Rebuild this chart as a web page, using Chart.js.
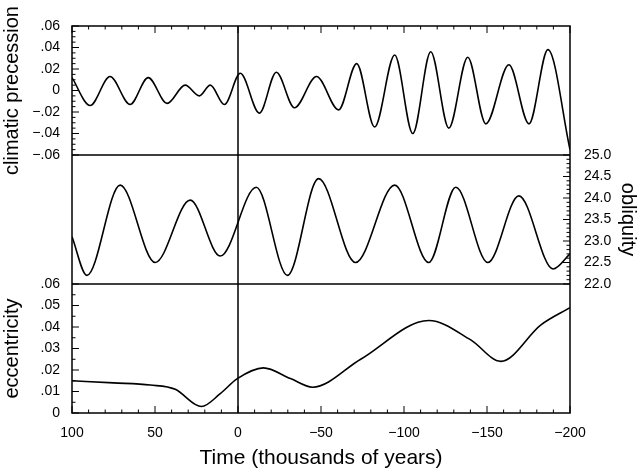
<!DOCTYPE html>
<html>
<head>
<meta charset="utf-8">
<script src="https://cdn.jsdelivr.net/npm/chart.js@4"></script>
<style>
  body { margin: 0; background: #fff; }
  #wrap { width: 640px; height: 475px; }
</style>
</head>
<body>
<div id="wrap"><canvas id="c"></canvas></div>
<script>
// values (time in thousands of years, + = past)
var precT = [100, 89.1, 77.1, 65, 54.1, 42.7, 31.8, 23.3, 16.7, 8.2, -1.4, -12.9, -23.1, -34, -47.3, -60.6, -71.5, -82.3, -94.4, -105.3, -116.1, -127, -138.4, -149.3, -163.2, -175.3, -186.7, -200];
var precV = [0.012, -0.014, 0.013, -0.013, 0.012, -0.012, 0.005, -0.005, 0.005, -0.013, 0.016, -0.021, 0.017, -0.016, 0.013, -0.018, 0.025, -0.034, 0.033, -0.040, 0.036, -0.035, 0.031, -0.031, 0.024, -0.031, 0.038, -0.055];

var oblT = [100, 91, 71, 49.9, 28.8, 10.7, -11, -29.8, -48.5, -70.8, -94.4, -114.9, -131.2, -150.5, -169.2, -189.8, -200];
var oblV = [23.1, 22.2, 24.3, 22.5, 23.95, 22.65, 24.25, 22.2, 24.45, 22.5, 24.3, 22.5, 24.25, 22.5, 24.05, 22.35, 22.7];

var eccT = [100, 75, 52.9, 37.8, 25.8, 22, 10.7, 0.4, -15.3, -31.6, -44.9, -73.9, -114.9, -140.2, -158.3, -182.5, -200];
var eccV = [0.015, 0.014, 0.013, 0.011, 0.004, 0.003, 0.009, 0.016, 0.021, 0.016, 0.012, 0.025, 0.043, 0.034, 0.024, 0.041, 0.049];

var xTicks = [100, 50, 0, -50, -100, -150, -200];
var precTicks = [-0.06, -0.04, -0.02, 0, 0.02, 0.04, 0.06];
var eccTicks = [0, 0.01, 0.02, 0.03, 0.04, 0.05, 0.06];
var oblTicks = [22, 22.5, 23, 23.5, 24, 24.5, 25];

function pts(t, v) { return t.map(function (x, i) { return { x: x, y: v[i] }; }); }
function minus(s) { return String(s).replace('-', '\u2212'); }
function dec(v) {
  if (Math.abs(v) < 1e-9) return '0';
  var s = v.toFixed(2).replace('0.', '.');
  return minus(s);
}
function fixed(list) {
  return function (sc) { sc.ticks = list.map(function (v) { return { value: v }; }); };
}

var FONT = 'Liberation Sans, Arial, sans-serif';

var frame = {
  id: 'frame',
  afterDraw: function (chart) {
    var ctx = chart.ctx, a = chart.chartArea, s = chart.scales;
    ctx.save();
    ctx.strokeStyle = '#000';
    ctx.lineWidth = 1.5;
    ctx.strokeRect(a.left, a.top, a.right - a.left, a.bottom - a.top);
    var y1 = s.yP.bottom, y2 = s.yE.top;
    ctx.beginPath();
    ctx.moveTo(a.left, y1); ctx.lineTo(a.right, y1);
    ctx.moveTo(a.left, y2); ctx.lineTo(a.right, y2);
    var x0 = s.x.getPixelForValue(0);
    ctx.moveTo(x0, a.top); ctx.lineTo(x0, a.bottom);
    ctx.stroke();
    ctx.lineWidth = 1;
    function yt(sc, lo, hi, maj, mn, xEdge, dir) {
      var n = Math.round((hi - lo) / mn);
      ctx.beginPath();
      for (var i = 0; i <= n; i++) {
        var v = lo + i * mn;
        var isMaj = Math.abs(Math.round(v / maj) * maj - v) < mn / 10;
        var py = sc.getPixelForValue(v);
        ctx.moveTo(xEdge, py); ctx.lineTo(xEdge + dir * (isMaj ? 7 : 3.5), py);
      }
      ctx.stroke();
    }
    yt(s.yP, -0.06, 0.06, 0.02, 0.005, a.left, 1);
    yt(s.yE, 0, 0.06, 0.01, 0.005, a.left, 1);
    yt(s.yO, 22, 25, 0.5, 0.1, a.right, -1);
    ctx.beginPath();
    for (var t = -200; t <= 100; t += 10) {
      var px = s.x.getPixelForValue(t);
      var L = (t % 50 === 0) ? 7 : 3.5;
      ctx.moveTo(px, a.bottom); ctx.lineTo(px, a.bottom - L);
      ctx.moveTo(px, a.top); ctx.lineTo(px, a.top + L);
    }
    ctx.stroke();
    ctx.restore();
  }
};

function line(d, axis) {
  return {
    data: d, yAxisID: axis, borderColor: '#000', borderWidth: 1.6,
    pointRadius: 0, fill: false, cubicInterpolationMode: 'monotone'
  };
}
var noGrid = { display: false };
var tickFont = { family: FONT, size: 14 };
var titleFont = { family: FONT, size: 20 };

new Chart(document.getElementById('c'), {
  type: 'line',
  data: {
    datasets: [
      line(pts(precT, precV), 'yP'),
      line(pts(oblT, oblV), 'yO'),
      line(pts(eccT, eccV), 'yE')
    ]
  },
  options: {
    responsive: true,
    maintainAspectRatio: false,
    animation: false,
    layout: { padding: { top: 26, right: 0, left: 0, bottom: 0 } },
    plugins: { legend: { display: false }, tooltip: { enabled: false } },
    scales: {
      x: {
        type: 'linear', min: -200, max: 100, reverse: true,
        afterBuildTicks: fixed(xTicks),
        ticks: { color: '#000', font: tickFont, maxRotation: 0, autoSkip: false, padding: 4, callback: function (v) { return minus(v); } },
        grid: noGrid, border: { display: false },
        title: { display: true, text: 'Time (thousands of years)', color: '#000', font: { family: FONT, size: 21 }, padding: { top: 4 } },
        afterFit: function (sc) { sc.height = 62; }
      },
      yE: {
        stack: 'L', position: 'left', min: 0, max: 0.06, stackWeight: 1,
        afterBuildTicks: fixed(eccTicks),
        ticks: { color: '#000', font: tickFont, autoSkip: false, padding: 4, callback: dec },
        grid: noGrid, border: { display: false },
        title: { display: true, text: 'eccentricity', color: '#000', font: titleFont, padding: 0 },
        afterFit: function (sc) { sc.width = 72; }
      },
      yM: {
        stack: 'L', position: 'left', min: 0, max: 1, stackWeight: 1,
        ticks: { display: false }, grid: noGrid, border: { display: false },
        afterFit: function (sc) { sc.width = 72; }
      },
      yP: {
        stack: 'L', position: 'left', min: -0.06, max: 0.06, stackWeight: 1,
        afterBuildTicks: fixed(precTicks),
        ticks: { color: '#000', font: tickFont, autoSkip: false, padding: 4, callback: dec },
        grid: noGrid, border: { display: false },
        title: { display: true, text: 'climatic precession', color: '#000', font: titleFont, padding: 0 },
        afterFit: function (sc) { sc.width = 72; }
      },
      yO: {
        position: 'right', min: 19, max: 28,
        afterBuildTicks: fixed(oblTicks),
        ticks: { color: '#000', font: tickFont, autoSkip: false, padding: 6, callback: function (v) { return v.toFixed(1); } },
        grid: noGrid, border: { display: false },
        title: { display: true, text: 'obliquity', color: '#000', font: titleFont, padding: 0 },
        afterFit: function (sc) { sc.width = 70; }
      }
    }
  },
  plugins: [frame]
});
</script>
</body>
</html>
